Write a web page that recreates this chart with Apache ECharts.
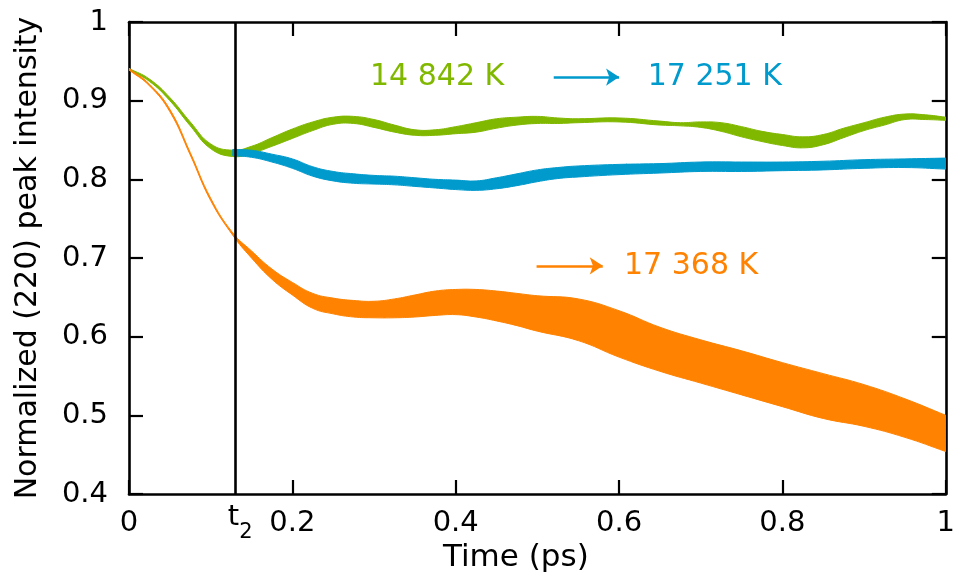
<!DOCTYPE html>
<html><head><meta charset="utf-8">
<script src="https://cdn.jsdelivr.net/npm/echarts@6/dist/echarts.min.js"></script>
<style>html,body{margin:0;padding:0;background:#fff}#c{width:958px;height:579px}</style>
</head><body><div id="c"></div>
<script>
// ---- data ----
const timeG = [0, 0.025, 0.05, 0.075, 0.1, 0.127, 0.15, 0.175, 0.2, 0.225, 0.25, 0.275, 0.3, 0.325, 0.35, 0.375, 0.4, 0.425, 0.45, 0.475, 0.5, 0.525, 0.55, 0.6, 0.65, 0.675, 0.7, 0.725, 0.75, 0.775, 0.8, 0.825, 0.85, 0.875, 0.9, 0.925, 0.95, 0.975, 1.0];
const greenLo = [0.939, 0.9245, 0.900, 0.868, 0.839, 0.829, 0.833, 0.842, 0.852, 0.862, 0.870, 0.871, 0.866, 0.860, 0.856, 0.856, 0.858, 0.860, 0.865, 0.869, 0.871, 0.871, 0.872, 0.873, 0.869, 0.868, 0.866, 0.861, 0.854, 0.848, 0.843, 0.840, 0.844, 0.853, 0.862, 0.869, 0.876, 0.876, 0.875];
const greenHi = [0.941, 0.9275, 0.904, 0.873, 0.845, 0.837, 0.842, 0.853, 0.864, 0.873, 0.879, 0.880, 0.876, 0.869, 0.863, 0.863, 0.867, 0.872, 0.877, 0.879, 0.880, 0.878, 0.877, 0.878, 0.874, 0.872, 0.873, 0.872, 0.867, 0.861, 0.857, 0.854, 0.857, 0.865, 0.872, 0.879, 0.883, 0.882, 0.879];

const timeB = [0.127, 0.15, 0.175, 0.2, 0.225, 0.25, 0.275, 0.3, 0.325, 0.35, 0.375, 0.4, 0.425, 0.45, 0.475, 0.5, 0.525, 0.55, 0.6, 0.65, 0.7, 0.75, 0.8, 0.85, 0.9, 0.95, 1.0];
const blueLo = [0.830, 0.828, 0.822, 0.814, 0.804, 0.798, 0.795, 0.794, 0.793, 0.791, 0.789, 0.787, 0.786, 0.788, 0.792, 0.797, 0.801, 0.803, 0.806, 0.808, 0.810, 0.810, 0.811, 0.812, 0.814, 0.815, 0.813];
const blueHi = [0.838, 0.837, 0.832, 0.826, 0.816, 0.810, 0.807, 0.805, 0.804, 0.802, 0.800, 0.799, 0.798, 0.802, 0.807, 0.812, 0.815, 0.817, 0.819, 0.820, 0.822, 0.822, 0.822, 0.823, 0.825, 0.826, 0.827];

const timeO = [0, 0.025, 0.05, 0.075, 0.1, 0.127, 0.15, 0.175, 0.2, 0.225, 0.25, 0.275, 0.3, 0.325, 0.35, 0.375, 0.4, 0.425, 0.45, 0.475, 0.5, 0.55, 0.6, 0.65, 0.7, 0.75, 0.8, 0.85, 0.9, 0.95, 1.0];
const orangeLo = [0.939, 0.919, 0.886, 0.831, 0.773, 0.729, 0.700, 0.673, 0.653, 0.636, 0.629, 0.625, 0.624, 0.624, 0.625, 0.627, 0.628, 0.625, 0.620, 0.614, 0.607, 0.595, 0.574, 0.556, 0.541, 0.526, 0.511, 0.496, 0.486, 0.472, 0.454];
const orangeHi = [0.941, 0.921, 0.889, 0.834, 0.776, 0.732, 0.709, 0.686, 0.669, 0.655, 0.649, 0.646, 0.645, 0.648, 0.653, 0.658, 0.660, 0.660, 0.658, 0.655, 0.652, 0.648, 0.633, 0.612, 0.596, 0.582, 0.567, 0.553, 0.539, 0.521, 0.500];

const t2 = 0.127;
const labelGreen = '14 842 K', labelBlue = '17 251 K', labelOrange = '17 368 K';
const posGreen = [0.295, 0.930], posBlue = [0.635, 0.930], posOrange = [0.606, 0.690];
const arrowBlue = [[0.520, 0.930], [0.600, 0.930]];
const arrowOrange = [[0.499, 0.690], [0.580, 0.690]];

// ---- styling ----
const FONT = 'DejaVu Sans';
const cGreen = '#80b800', cBlue = '#009acd', cOrange = '#ff8200';
const SMOOTH = 0.45;

function bandSeries(t, lo, hi, color, z) {
  return {
    type: 'custom', coordinateSystem: 'cartesian2d', silent: true, clip: true, z: z,
    data: t.map((x, i) => [x, lo[i], hi[i]]),
    encode: {x: 0, y: [1, 2]},
    renderItem: function (params, api) {
      if (params.dataIndex !== 0) return null;
      const up = t.map((x, i) => api.coord([x, hi[i]]));
      const dn = t.map((x, i) => api.coord([x, lo[i]])).reverse();
      const pts = [up[0]].concat(up, [up[up.length - 1], dn[0]], dn, [dn[dn.length - 1]]);
      return {type: 'polygon', shape: {points: pts, smooth: SMOOTH},
        style: {fill: color, stroke: color, lineWidth: 1}};
    }
  };
}
function holder(t, lo, markPoint, markLine, z) {
  const s = {type: 'line', data: t.map((x, i) => [x, lo[i]]), symbol: 'none', silent: true, z: z,
    lineStyle: {opacity: 0, width: 0}, markPoint: markPoint};
  if (markLine) s.markLine = markLine;
  return s;
}
function textMark(pos, txt, color) {
  return {silent: true, data: [{coord: pos, symbol: 'circle', symbolSize: 0.1, itemStyle: {color: 'rgba(0,0,0,0)'},
    label: {show: true, position: 'right', distance: 0, formatter: txt, color: color, fontSize: 30, fontFamily: FONT}}]};
}
function arrow(seg, color) {
  return {silent: true, symbol: ['none', 'arrow'], symbolSize: 13, animation: false,
    lineStyle: {color: color, width: 2.5, type: 'solid'}, label: {show: false},
    data: [[{coord: seg[0]}, {coord: seg[1]}]]};
}

const axLine = {show: true, onZero: false, lineStyle: {color: '#000', width: 2.6}};
const axTick = {show: true, inside: true, length: 14, lineStyle: {color: '#000', width: 2.2}};
const lbl = {fontSize: 29, color: '#000', fontFamily: FONT};

const chart = echarts.init(document.getElementById('c'), null, {renderer: 'canvas'});
chart.setOption({
  animation: false,
  backgroundColor: '#fff',
  grid: {left: 129, right: 6, top: 22, bottom: 85, containLabel: false},
  xAxis: [
    {type: 'value', min: 0, max: 1, interval: 0.2, position: 'bottom', axisLine: axLine, axisTick: axTick,
      splitLine: {show: false}, axisLabel: Object.assign({margin: 15, formatter: v => String(+v.toFixed(1))}, lbl),
      name: 'Time (ps)', nameLocation: 'middle', nameGap: 40,
      nameTextStyle: Object.assign({padding: [0, 43, 0, 0]}, lbl, {fontSize: 31})},
    {type: 'value', min: 0, max: 1, interval: 0.2, position: 'top', axisLine: axLine, axisTick: axTick,
      splitLine: {show: false}, axisLabel: {show: false}}
  ],
  yAxis: [
    {type: 'value', min: 0.4, max: 1, interval: 0.1, position: 'left', axisLine: axLine, axisTick: axTick,
      splitLine: {show: false}, axisLabel: Object.assign({margin: 21, formatter: v => String(+v.toFixed(1))}, lbl),
      name: 'Normalized (220) peak intensity', nameLocation: 'middle', nameGap: 86,
      nameTextStyle: Object.assign({}, lbl, {fontSize: 30})},
    {type: 'value', min: 0.4, max: 1, interval: 0.1, position: 'right', axisLine: axLine, axisTick: axTick,
      splitLine: {show: false}, axisLabel: {show: false}}
  ],
  series: [
    bandSeries(timeG, greenLo, greenHi, cGreen, 2),
    bandSeries(timeB, blueLo, blueHi, cBlue, 3),
    bandSeries(timeO, orangeLo, orangeHi, cOrange, 4),
    holder(timeG, greenLo, textMark(posGreen, labelGreen, cGreen), null, 5),
    holder(timeB, blueLo, textMark(posBlue, labelBlue, cBlue), arrow(arrowBlue, cBlue), 5),
    holder(timeO, orangeLo, textMark(posOrange, labelOrange, cOrange), arrow(arrowOrange, cOrange), 5),
    {type: 'line', data: [[t2, 0.4], [t2, 1]], symbol: 'none', silent: true, z: 6,
      lineStyle: {opacity: 0, width: 0},
      markLine: {silent: true, symbol: ['none', 'none'], animation: false,
        lineStyle: {color: '#000', width: 2.6, type: 'solid'},
        label: {show: true, position: 'start', distance: 9, formatter: '{t|t}{s|2}',
          rich: {t: {fontSize: 29, fontFamily: FONT, color: '#000', lineHeight: 40, verticalAlign: 'top', padding: [0, 0, 0, 10]},
                 s: {fontSize: 21, fontFamily: FONT, color: '#000', lineHeight: 40, verticalAlign: 'bottom'}}},
        data: [{xAxis: t2}]}}
  ]
});
</script>
</body></html>
